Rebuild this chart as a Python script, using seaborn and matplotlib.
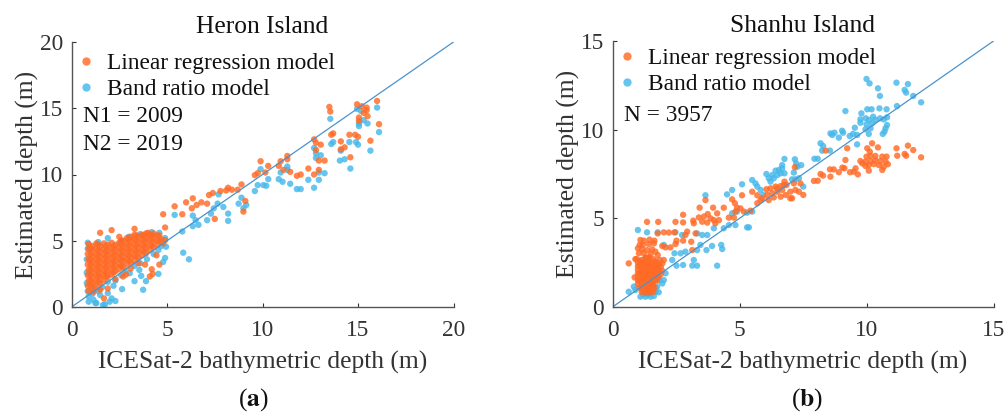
# scatter_depth.py
import pandas as pd
import matplotlib
matplotlib.use("Agg")
import matplotlib.pyplot as plt
import seaborn as sns

LINEAR = "Linear regression model"
BAND = "Band ratio model"

# (ICESat-2 depth, estimated depth)
heron_linear = [
    (0.9,1.2),(0.85,1.6),(0.9,2.0),(0.85,2.4),(0.9,2.8),(0.85,3.2),(0.9,3.6),(0.85,4.0),(0.9,4.4),(0.9,4.75),
    (1.1,1.4),(1.1,1.8),(1.1,2.2),(1.1,2.6),(1.1,3.0),(1.1,3.4),(1.1,3.8),(1.1,4.2),(1.1,4.6),
    (1.3,1.6),(1.3,2.0),(1.3,2.4),(1.3,2.8),(1.3,3.2),(1.3,3.6),(1.3,4.0),(1.3,4.4),(1.3,4.8),
    (1.5,1.8),(1.5,2.2),(1.5,2.6),(1.5,3.0),(1.5,3.4),(1.5,3.8),(1.5,4.2),(1.5,4.6),
    (1.7,2.0),(1.7,2.4),(1.7,2.8),(1.7,3.2),(1.7,3.6),(1.7,4.0),(1.7,4.4),(1.7,4.8),
    (1.9,2.3),(1.9,2.7),(1.9,3.1),(1.9,3.5),(1.9,3.9),(1.9,4.3),(1.9,4.7),
    (2.1,2.45),(2.1,2.85),(2.1,3.25),(2.1,3.65),(2.1,4.05),(2.1,4.45),(2.1,4.85),
    (2.3,2.7),(2.3,3.1),(2.3,3.5),(2.3,3.9),(2.3,4.3),(2.3,4.7),
    (2.5,2.85),(2.5,3.25),(2.5,3.65),(2.5,4.05),(2.5,4.45),(2.5,4.85),
    (2.7,3.0),(2.7,3.4),(2.7,3.8),(2.7,4.2),(2.7,4.6),(2.7,5.0),
    (2.9,3.2),(2.9,3.6),(2.9,4.0),(2.9,4.4),(2.9,4.8),(2.9,5.2),
    (3.1,3.35),(3.1,3.75),(3.1,4.15),(3.1,4.55),(3.1,4.95),(3.1,5.3),
    (3.3,3.5),(3.3,3.9),(3.3,4.3),(3.3,4.7),(3.3,5.1),(3.3,5.45),
    (3.5,3.7),(3.5,4.1),(3.5,4.5),(3.5,4.9),(3.5,5.3),
    (3.7,3.9),(3.7,4.3),(3.7,4.7),(3.7,5.1),(3.7,5.45),
    (3.9,4.05),(3.9,4.45),(3.9,4.85),(3.9,5.25),(3.9,5.55),
    (4.1,4.3),(4.1,4.7),(4.1,5.1),(4.1,5.45),
    (4.3,4.5),(4.3,4.9),(4.3,5.3),(4.3,5.55),
    (4.5,4.7),(4.5,5.0),(4.5,5.4),(4.7,5.1),(4.8,4.8),
    (1.0,1.6),(1.0,2.0),(1.0,2.4),(1.0,2.8),(1.0,3.2),(1.0,3.6),(1.0,4.0),(1.0,4.4),
    (1.4,1.9),(1.4,2.3),(1.4,2.7),(1.4,3.1),(1.4,3.5),(1.4,3.9),(1.4,4.3),(1.4,4.7),
    (1.8,2.3),(1.8,2.6),(1.8,3.0),(1.8,3.4),(1.8,3.8),(1.8,4.2),(1.8,4.6),
    (2.2,2.6),(2.2,3.0),(2.2,3.4),(2.2,3.8),(2.2,4.2),(2.2,4.6),
    (2.6,3.1),(2.6,3.5),(2.6,3.9),(2.6,4.3),(2.6,4.7),(2.6,5.0),
    (3.0,3.5),(3.0,3.9),(3.0,4.3),(3.0,4.7),(3.0,5.1),
    (3.4,3.8),(3.4,4.2),(3.4,4.6),(3.4,5.0),(3.4,5.4),
    (3.8,4.2),(3.8,4.6),(3.8,5.0),(3.8,5.4),
    (4.2,4.6),(4.2,5.0),(4.2,5.4),(4.6,5.0),(4.6,5.4),
    (1.5,5.6),(2.1,5.8),(2.5,5.3),(3.3,5.9),(4.0,5.6),(4.9,6.0),(4.8,7.0),(5.4,7.6),(5.8,7.0),
    (6.0,7.9),(6.35,8.2),(6.3,7.45),(6.55,7.7),(6.8,7.9),(7.1,7.8),(7.2,8.45),(7.4,8.6),(7.5,6.65),
    (7.8,8.75),(8.1,8.8),(8.2,9.0),(8.4,8.85),(8.7,8.85),(8.9,9.25),(9.1,8.0),(9.0,7.2),(9.6,9.95),(9.75,10.1),
    (2.7,2.3),(2.85,2.45),(1.7,0.65),(4.2,2.85),(4.25,2.5),(4.1,2.3),(4.6,3.2),(4.45,3.9),(3.85,3.2),(4.9,5.05),
    (1.15,1.15),(1.5,1.3),(1.9,1.4),(2.3,2.1),(3.1,2.9),(3.5,3.3),
    (9.9,11.0),(10.3,10.65),(10.15,10.15),(10.85,10.65),(10.95,11.0),(11.3,11.4),(11.3,11.15),(11.1,10.35),
    (11.45,10.2),(11.8,9.9),(12.0,10.0),(12.4,10.45),(12.7,10.0),(12.95,10.35),(12.95,11.05),(13.25,11.05),
    (13.05,12.25),(12.8,11.85),(12.7,12.65),(12.8,12.4),(13.5,15.1),(13.55,14.75),(13.6,13.0),(13.7,13.1),
    (14.1,12.5),(14.1,11.9),(14.3,12.05),(14.6,11.3),(14.55,13.0),(14.85,13.0),(15.0,12.85),(14.95,15.3),
    (15.2,15.15),(15.45,15.05),(15.45,14.85),(15.3,14.65),(15.5,14.4),(15.05,14.3),(15.05,14.05),(15.65,12.55),
    (16.0,15.55),(16.1,13.8),
]
heron_band = [
    (1.25,0.3),(0.9,0.8),(0.9,0.4),(1.65,0.15),(1.75,0.2),(2.1,0.65),(2.3,0.45),(1.9,1.05),(1.5,0.9),(1.15,0.55),
    (1.3,0.3),(2.0,0.4),(2.65,1.35),(3.75,1.3),(3.9,1.95),(3.3,1.95),(3.65,2.35),(4.55,2.5),(3.55,2.8),(3.05,2.55),
    (2.6,2.4),(4.9,3.7),(4.8,3.4),(4.95,4.55),(5.85,4.1),(6.15,3.6),(5.4,6.95),(5.8,5.7),(6.35,6.1),(6.65,6.2),
    (6.5,6.55),(6.35,6.9),(7.1,6.55),(7.3,7.05),(7.45,7.45),(7.65,7.8),(7.7,8.5),(7.95,7.55),(8.2,7.05),(8.2,6.5),
    (8.75,7.8),(8.9,8.25),(9.15,7.7),(9.0,7.45),(9.6,8.75),(9.75,9.2),
    (0.85,4.85),(0.85,4.4),(0.8,3.6),(0.8,2.6),(0.8,1.8),(0.85,1.2),(1.4,4.9),(1.9,5.2),(2.6,5.0),(3.0,5.3),
    (3.6,5.5),(4.2,5.65),(4.6,5.6),(4.9,5.2),(1.2,1.5),(1.6,1.5),(1.9,1.9),(2.3,2.0),(2.8,2.7),(3.3,3.1),
    (3.6,3.3),(3.95,3.6),(4.3,4.0),(4.55,4.3),(4.7,4.6),(1.1,1.0),(1.4,1.2),(2.2,1.6),
    (9.9,10.4),(10.05,9.2),(10.2,9.15),(10.3,9.65),(10.85,9.65),(11.05,9.45),(11.45,9.3),(10.95,10.15),(11.3,10.6),
    (11.3,10.35),(11.8,8.9),(12.0,8.9),(12.4,9.6),(12.7,9.0),(12.95,9.6),(12.95,10.15),(13.25,10.1),(13.05,11.45),
    (12.8,11.6),(12.8,11.25),(12.7,12.0),(13.55,14.2),(13.6,12.3),(13.7,12.45),(14.1,11.8),(14.05,11.05),(14.3,11.15),
    (14.6,10.45),(14.55,12.45),(14.9,12.45),(15.0,12.25),(14.95,14.95),(15.15,14.8),(15.3,14.1),(15.05,13.85),
    (15.05,13.65),(15.5,13.85),(15.65,11.8),(16.0,15.05),(16.1,13.2),
]
shanhu_linear = [
    (1.0,1.3),(1.0,1.5),(1.0,1.7),(1.0,1.9),(1.0,2.1),(1.0,2.3),(1.0,2.5),(0.95,2.7),
    (1.15,0.85),(1.15,1.05),(1.15,1.25),(1.15,1.45),(1.15,1.65),(1.15,1.85),(1.15,2.05),(1.15,2.25),(1.15,2.45),(1.15,2.65),
    (1.3,0.8),(1.3,1.0),(1.3,1.2),(1.3,1.4),(1.3,1.6),(1.3,1.8),(1.3,2.0),(1.3,2.2),(1.3,2.4),(1.3,2.6),(1.3,2.8),
    (1.45,0.8),(1.45,1.0),(1.45,1.2),(1.45,1.4),(1.45,1.6),(1.45,1.8),(1.45,2.0),(1.45,2.2),(1.45,2.4),(1.45,2.6),(1.45,2.8),
    (1.6,0.85),(1.6,1.05),(1.6,1.25),(1.6,1.45),(1.6,1.65),(1.6,1.85),(1.6,2.05),(1.6,2.25),(1.6,2.45),(1.6,2.7),
    (1.75,1.5),(1.75,1.7),(1.75,1.9),(1.75,2.1),(1.75,2.3),(1.75,2.5),(1.9,1.85),(1.95,2.05),(1.9,2.25),
    (1.07,1.1),(1.07,1.5),(1.07,1.9),(1.07,2.3),(1.07,2.6),(1.22,0.9),(1.22,1.3),(1.22,1.7),(1.22,2.1),(1.22,2.5),
    (1.37,0.9),(1.37,1.3),(1.37,1.7),(1.37,2.1),(1.37,2.5),(1.37,2.75),(1.52,0.9),(1.52,1.3),(1.52,1.7),(1.52,2.1),(1.52,2.5),
    (1.67,1.1),(1.67,1.5),(1.67,1.9),(1.67,2.3),(1.67,2.6),(1.82,1.7),(1.82,2.1),(1.82,2.4),
    (1.1,3.78),(1.24,3.74),(1.46,3.8),(1.65,3.74),(1.07,3.5),(1.2,3.5),(1.43,3.55),(1.63,3.59),(1.0,3.31),(1.17,3.25),
    (1.36,3.21),(1.56,3.25),(1.69,3.12),(1.04,3.03),(1.23,3.03),(1.5,2.99),(1.78,2.93),(0.9,2.7),(0.64,2.46),(1.3,2.74),
    (1.86,2.65),(2.02,2.65),(1.96,2.46),(0.87,1.67),(2.09,3.36),(1.96,3.44),(2.28,3.36),
    (1.36,4.8),(1.8,4.8),(2.48,4.8),(2.78,5.2),(2.78,4.77),(3.18,4.87),(3.2,4.72),(3.4,5.05),(3.43,5.6),(3.66,6.03),
    (3.96,5.6),(4.38,5.6),(4.71,6.07),(4.82,5.85),(4.9,5.6),(5.1,6.3),(5.04,5.56),(5.17,5.38),(5.43,5.43),(4.84,5.38),
    (4.78,5.04),(4.58,5.04),(5.5,6.5),(5.7,6.3),(5.9,6.13),(5.7,5.85),(3.6,5.1),(3.75,5.24),(3.99,4.9),(4.12,5.28),
    (4.19,4.9),(4.05,4.72),(3.73,4.76),(3.53,4.81),(3.86,5.0),(2.94,4.25),(3.27,4.15),(2.44,4.21),(2.02,4.21),(1.78,4.15),
    (2.22,4.2),(2.87,4.06),(2.52,3.74),(2.78,3.74),(3.1,3.68),(2.48,3.55),(3.14,3.21),
    (8.39,8.82),(9.24,8.95),(10.03,8.95),(10.22,9.23),(10.13,8.76),(10.45,9.0),(11.18,8.95),(11.63,9.1),(11.84,8.85),
    (11.21,8.53),(11.5,8.63),(11.56,8.53),(12.15,8.44),(9.17,8.29),(9.76,8.23),(9.96,8.2),(10.16,8.23),(10.35,8.29),
    (10.55,8.23),(10.75,8.2),(10.79,8.48),(10.62,8.48),(10.35,8.52),(10.16,8.52),(10.0,8.48),(9.83,8.1),(10.09,8.0),
    (10.29,8.06),(10.49,8.0),(10.84,8.05),(10.68,7.91),(10.62,7.73),(10.09,7.69),(9.96,7.95),(9.57,7.82),(9.5,7.63),
    (9.35,7.6),(9.66,7.48),(9.05,7.86),(9.13,7.82),(8.91,7.6),(8.71,7.76),(8.56,7.76),(8.58,7.35),(8.19,7.5),(8.29,7.41),
    (8.08,7.12),(7.93,7.11),(7.18,7.88),(6.06,6.64),(6.22,6.69),(6.42,6.79),(6.62,6.82),(6.77,7.07),(6.85,6.88),(6.68,6.6),
    (6.49,6.5),(6.29,6.41),(6.09,6.32),(6.35,6.18),(6.62,6.22),(6.82,6.32),(7.14,6.97),(7.4,6.97),(7.2,6.6),(7.0,6.5),
    (7.34,6.5),(7.51,6.32),(7.07,6.13),(6.15,6.03),(5.83,6.03),(6.48,6.69),(6.75,6.88),(7.0,6.13),
]
shanhu_band = [
    (3.66,6.3),(4.51,6.35),(4.71,6.6),(5.1,6.92),(5.5,7.16),(5.63,6.97),(5.7,6.79),(4.12,2.33),(3.33,2.33),(3.14,2.33),
    (2.78,2.37),(2.52,2.33),(2.35,2.65),(3.2,2.65),(3.33,3.21),(3.46,3.5),(3.7,3.21),(3.92,3.44),(4.28,3.5),(4.32,3.27),
    (2.87,3.12),(2.68,3.03),(2.44,3.03),(2.02,3.5),(1.36,4.21),(1.0,4.34),(1.78,4.21),(2.48,4.21),(2.74,4.06),(3.33,4.15),
    (3.53,4.06),(3.73,4.06),(3.99,4.44),(4.38,4.44),(4.58,4.62),(4.84,4.62),(5.3,4.49),(5.37,4.49),(5.3,5.32),(5.5,5.38),
    (4.9,5.38),(4.71,5.28),(1.1,0.58),(1.3,0.58),(1.5,0.58),(1.63,0.62),(0.64,0.86),(0.84,1.15),(0.9,0.96),(1.82,0.83),
    (1.76,1.15),(1.96,1.33),(2.09,1.9),(2.02,1.52),(1.85,1.5),(1.7,0.86),(1.2,0.7),(1.4,0.7),
    (10.0,12.86),(10.12,12.61),(10.45,12.33),(10.53,11.9),(11.18,12.65),(11.63,12.57),(11.5,12.24),(11.56,12.09),(11.84,11.9),
    (12.15,11.54),(11.2,11.33),(9.17,11.05),(10.03,11.15),(10.2,11.15),(10.51,11.2),(10.79,11.15),(9.8,10.92),(9.76,10.58),
    (9.76,10.39),(9.97,10.64),(10.1,10.55),(10.26,10.73),(10.35,10.55),(10.53,10.64),(10.68,10.58),(10.81,10.7),(10.22,10.36),
    (10.0,10.3),(9.54,10.11),(10.16,10.08),(9.96,10.02),(10.81,10.26),(10.75,10.08),(10.71,9.89),(10.64,9.76),(10.09,9.76),
    (9.04,9.94),(9.08,9.83),(8.58,9.79),(8.65,9.7),(8.74,9.83),(8.91,9.55),(9.34,9.64),(9.47,9.76),(9.63,9.7),(9.63,9.17),
    (8.19,9.23),(8.29,9.08),(8.25,8.82),(8.56,8.82),(7.95,8.36),(8.08,8.36),(6.77,8.35),(6.68,8.0),(7.18,8.33),(7.23,8.1),
    (7.43,8.0),(7.28,7.91),(6.42,7.69),(6.55,7.73),(6.68,7.82),(6.77,7.54),(6.06,7.5),(6.15,7.26),(6.29,7.44),(6.35,7.26),
    (6.49,7.44),(6.62,7.54),(7.14,7.58),(7.07,7.2),(7.2,7.2),(7.34,7.26),(7.51,6.79),(5.83,6.6),(5.93,6.32),(6.22,7.07),
]

ticks_a = [0, 5, 10, 15, 20]
ticks_b = [0, 5, 10, 15]
notes_a = ["N1 = 2009", "N2 = 2019"]
notes_b = ["N = 3957"]

plt.rcParams["font.family"] = ["Liberation Serif"]
plt.rcParams["mathtext.fontset"] = "stix"
DARK = "#111111"
GREY = "#333333"
LABEL_FONT = 18.4
SMALL_FONT = 16.8


def make_frame(linear, band):
    # band goes first so the orange points end up on top
    a = pd.DataFrame(band, columns=["ice", "est"])
    a["model"] = BAND
    b = pd.DataFrame(linear, columns=["ice", "est"])
    b["model"] = LINEAR
    return pd.concat([a, b], ignore_index=True)


def draw_panel(ax, linear, band, ticks, title, notes, legend_y, note_y):
    df = make_frame(linear, band)
    sns.lineplot(x=[ticks[0], ticks[-1]], y=[ticks[0], ticks[-1]], color="#4a93cc", linewidth=0.9, ax=ax)
    sns.scatterplot(data=df, x="ice", y="est", hue="model", hue_order=[LINEAR, BAND],
                    palette={LINEAR: "#ff6a26", BAND: "#45b8ea"}, s=21, alpha=0.82,
                    linewidth=0, ax=ax)
    ax.set_xlim(ticks[0], ticks[-1])
    ax.set_ylim(ticks[0], ticks[-1])
    ax.set_xticks(ticks)
    ax.set_yticks(ticks)
    ax.tick_params(axis="x", direction="in", length=3, width=0.8, labelsize=SMALL_FONT, color=GREY, labelcolor=GREY, pad=9.5)
    ax.tick_params(axis="y", direction="in", length=3, width=0.8, labelsize=SMALL_FONT, color=GREY, labelcolor=GREY, pad=6)
    sns.despine(ax=ax)
    for side in ["left", "bottom"]:
        ax.spines[side].set_color("#555555")
        ax.spines[side].set_linewidth(1.0)
    ax.set_xlabel("ICESat-2 bathymetric depth (m)", fontsize=LABEL_FONT, color=GREY, labelpad=7.3)
    ax.set_ylabel("Estimated depth (m)", fontsize=LABEL_FONT, color=GREY, labelpad=0.5)
    ax.set_title(title, fontsize=LABEL_FONT, color=DARK, pad=6.5)
    ax.legend(loc="upper left", bbox_to_anchor=(0.0, legend_y), frameon=False, fontsize=SMALL_FONT, labelspacing=0.2,
              handlelength=1.0, handletextpad=0.4, borderpad=0.12, borderaxespad=0, labelcolor=DARK, markerscale=1.3)
    for i, note in enumerate(notes):
        ax.text(0.029, note_y - i * 0.103, note, transform=ax.transAxes, fontsize=SMALL_FONT, color=DARK, va="center")


fig = plt.figure(figsize=(10.06, 4.12), dpi=100)
ax1 = fig.add_axes([71.5 / 1006, 105 / 412, 382 / 1006, 265 / 412])
ax2 = fig.add_axes([612.5 / 1006, 105 / 412, 381 / 1006, 266 / 412])

draw_panel(ax1, heron_linear, heron_band, ticks_a, "Heron Island", notes_a, 0.97, 0.718)
draw_panel(ax2, shanhu_linear, shanhu_band, ticks_b, "Shanhu Island", notes_b, 0.986, 0.72)

fig.text(253 / 1006, 12 / 412, r"($\mathbf{a}$)", fontsize=LABEL_FONT, color=DARK, ha="center", va="center")
fig.text(807 / 1006, 12 / 412, r"($\mathbf{b}$)", fontsize=LABEL_FONT, color=DARK, ha="center", va="center")

fig.savefig("out.png", dpi=100)
